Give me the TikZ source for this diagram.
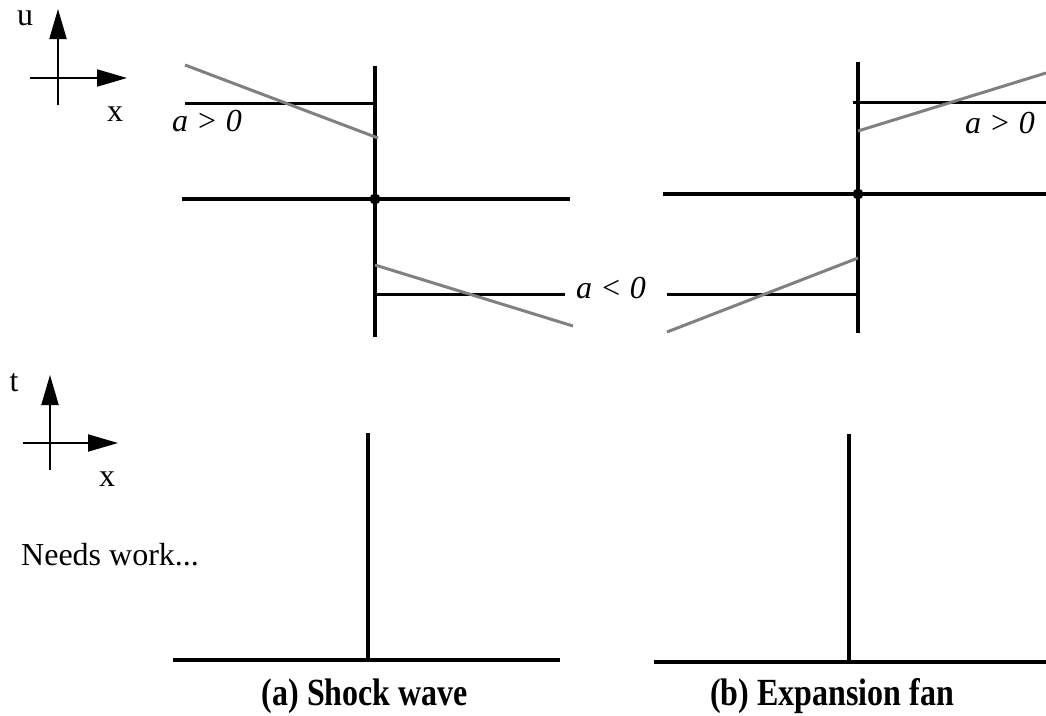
\documentclass[tikz,border=0pt]{standalone}
\usepackage{fontspec}
\setmainfont{Liberation Serif}
\usetikzlibrary{arrows.meta}
\definecolor{slopegray}{RGB}{128,128,128}

\begin{document}
\begin{tikzpicture}[x=1pt, y=-1pt,
    axisarrow/.style={line width=2pt, -{Triangle[length=30pt, width=17pt]}},
    jumpline/.style={line width=4pt},
    stateline/.style={line width=3pt},
    slopeline/.style={slopegray, line width=3pt},
    bigtext/.style={inner sep=0pt, font=\fontsize{32}{38}\selectfont},
    captext/.style={inner sep=0pt, font=\fontsize{32}{38}\selectfont\bfseries}]
    \useasboundingbox (0,0) rectangle (1046,715);

    % Ejes u-x
    \coordinate (ux) at (58,78);
    \draw[axisarrow] (58,105) -- (58,9);
    \draw[axisarrow] (30,78) -- (127,78);
    \node[bigtext] (ulab) at (25,18) {u};
    \node[bigtext] (uxlab) at (115,114) {x};

    % Onda de choque: u(x)
    \coordinate (sa) at (375,199);
    \draw[jumpline] (375,66) -- (375,337);
    \draw[jumpline] (182,199) -- (570,199);
    \draw[stateline] (185,103) -- (375,103);
    \draw[stateline] (375,294) -- (565,294);
    \draw[slopeline] (185,65) -- (378,138);
    \draw[slopeline] (375,265) -- (573,326);
    \fill (sa) circle (5.5);
    \node[bigtext, anchor=base west] (apos1) at (172,131) {\itshape a > 0};
    \node[bigtext, anchor=base west] (aneg) at (576,298) {\itshape a < 0};

    % Abanico de expansion: u(x)
    \coordinate (sb) at (858,194);
    \draw[jumpline] (858,62) -- (858,333);
    \draw[jumpline] (663,194) -- (1046,194);
    \draw[stateline] (853,102) -- (1046,102);
    \draw[stateline] (667,294) -- (858,294);
    \draw[slopeline] (858,131) -- (1046,73);
    \draw[slopeline] (667,332) -- (858,258);
    \fill (sb) circle (5.5);
    \node[bigtext, anchor=base west] (apos2) at (965,133) {\itshape a > 0};

    % Ejes t-x
    \coordinate (tx) at (50,443);
    \draw[axisarrow] (50,470) -- (50,375);
    \draw[axisarrow] (23,443) -- (118,443);
    \node[bigtext] (tlab) at (14,383) {t};
    \node[bigtext] (txlab) at (107,479) {x};
    \node[bigtext, anchor=base west] (todo) at (21,565) {Needs work...};

    % Diagramas x-t
    \draw[line width=3.5pt] (368,433) -- (368,660);
    \draw[line width=4.5pt] (173,660) -- (560,660);
    \draw[line width=3.5pt] (849,434) -- (849,662);
    \draw[line width=4.5pt] (654,662) -- (1046,662);

    % Titulos
    \node[captext, anchor=base] (capa) at (365,705) {\scalebox{1}[1.2]{(a) Shock wave}};
    \node[captext, anchor=base] (capb) at (832,705) {\scalebox{1}[1.2]{(b) Expansion fan}};
\end{tikzpicture}
\end{document}
